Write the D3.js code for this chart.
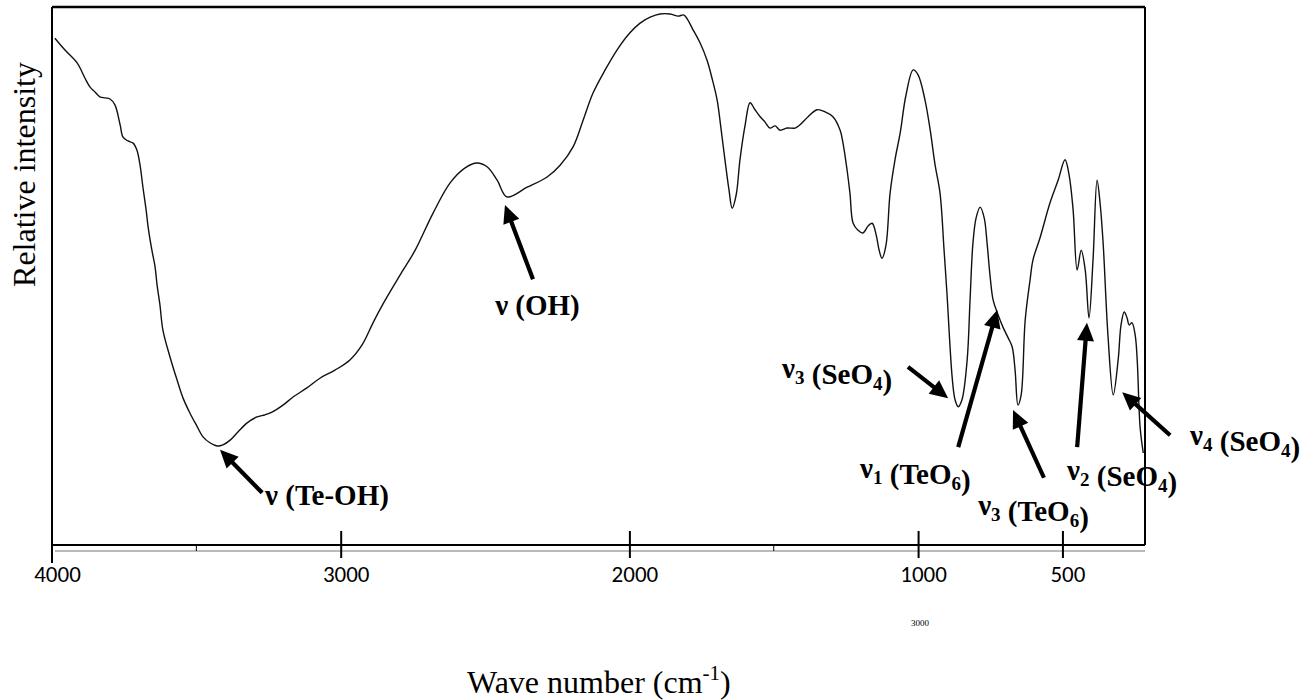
<!DOCTYPE html>
<html>
<head>
<meta charset="utf-8">
<script src="https://cdn.jsdelivr.net/npm/d3@7"></script>
<style>
  html, body { margin: 0; padding: 0; background: #fff; }
  svg { display: block; }
</style>
</head>
<body>
<svg id="chart" width="1306" height="700"></svg>
<script>
// ---------- DATA ----------
const wavenumbers = [3990,3955,3913,3886,3868,3851,3834,3816,3799,3782,3764,3754,3737,3719,3706,3695,3685,3674,3667,3654,3643,3636,3626,3616,3591,3567,3546,3522,3498,3477,3453,3428,3408,3383,3356,3324,3290,3262,3238,3200,3165,3117,3072,3020,2968,2926,2888,2846,2794,2742,2680,2621,2569,2528,2493,2458,2424,2354,2285,2240,2195,2160,2126,2084,2043,1998,1963,1928,1894,1859,1831,1811,1779,1755,1731,1714,1696,1682,1669,1655,1644,1630,1617,1599,1582,1565,1547,1530,1513,1495,1478,1454,1426,1409,1381,1350,1322,1295,1270,1260,1246,1236,1225,1208,1191,1173,1159,1145,1135,1125,1111,1097,1080,1062,1042,1017,1000,976,958,941,924,910,900,882,872,861,848,830,820,810,799,785,771,761,751,740,723,706,688,674,664,654,643,629,612,602,577,543,515,491,477,463,449,435,421,408,394,380,369,359,342,324,307,297,286,276,269,259,248,241,231,220];
const intensity = [94.2,92.0,89.6,86.8,85.1,84.2,83.3,83.1,82.9,81.8,78.1,75.8,75.1,74.7,73.4,70.6,66.5,62.3,59.1,54.8,51.7,48.3,44.6,40.0,34.9,30.7,27.3,24.5,22.1,20.1,19.0,18.4,18.6,19.5,21.0,22.7,23.8,24.2,24.7,26.0,27.5,29.2,31.0,32.5,34.4,37.2,41.3,45.5,50.2,54.8,61.7,67.3,70.1,71.0,70.3,67.8,64.7,66.5,68.4,70.6,74.0,79.0,84.0,88.3,92.0,95.2,97.0,98.1,98.7,98.7,98.3,98.5,95.7,93.3,90.1,86.8,82.7,77.1,71.6,66.0,62.6,65.1,71.6,78.1,82.2,80.9,79.6,78.6,77.5,77.9,77.1,77.5,77.5,78.1,79.6,80.9,80.5,79.6,77.1,74.7,69.7,65.4,59.8,58.5,58.0,59.3,59.8,57.6,54.8,53.3,55.8,65.4,71.6,76.6,83.6,88.3,87.4,82.7,77.1,70.6,65.4,54.8,46.8,31.2,27.0,25.7,27.0,34.4,45.5,56.1,60.8,62.8,60.8,56.1,50.2,45.5,42.8,40.5,38.5,36.8,32.5,26.0,27.9,41.8,49.3,53.0,57.2,63.6,67.8,71.6,68.8,62.3,51.1,54.8,51.1,42.2,53.0,67.8,63.2,56.1,38.7,27.9,34.4,40.9,43.3,42.2,40.9,41.3,39.0,34.4,21.9,17.1];

const tickValues = [4000, 3000, 2000, 1000, 500];
const tickLabels = ["4000", "3000", "2000", "1000", "500"];
const minorTicks = [3500, 1500];

// annotations: text ("_x" = subscript x), label anchor (wn, I), arrow tail (wn, I), arrow tip (wn, I)
const annoText  = ["ν (Te-OH)", "ν (OH)", "ν_3 (SeO_4)", "ν_1 (TeO_6)", "ν_3 (TeO_6)", "ν_2 (SeO_4)", "ν_4 (SeO_4)"];
const annoLabelWn = [3262, 2465, 1471, 1201, 792, 484, 58];
const annoLabelI  = [7.4, 42.8, 31.0, 12.5, 5.6, 12.1, 18.6];
const annoTailWn  = [3272, 2334, 1035, 861, 564, 449, 127];
const annoTailI   = [9.7, 49.4, 33.1, 18.2, 12.5, 18.2, 20.4];
const annoTipWn   = [3418, 2431, 896, 726, 671, 415, 293];
const annoTipI    = [17.7, 63.2, 27.3, 43.7, 25.1, 41.3, 28.4];

// ---------- CHART ----------
const svg = d3.select("#chart");
const x = d3.scaleLinear().domain([4000, 214]).range([52, 1145]);
const y = d3.scaleLinear().domain([0, 100]).range([545, 7]);

const data = wavenumbers.map((w, i) => ({ w, v: intensity[i] }));

// frame
const fr = svg.append("g").attr("stroke", "#000").attr("fill", "none");
fr.append("line").attr("x1", x(4000)).attr("x2", x(214)).attr("y1", y(100)).attr("y2", y(100)).attr("stroke-width", 2.5);
fr.append("line").attr("x1", x(4000)).attr("x2", x(4000)).attr("y1", y(100)).attr("y2", y(0) + 18).attr("stroke-width", 2);
fr.append("line").attr("x1", x(214)).attr("x2", x(214)).attr("y1", y(100)).attr("y2", y(0)).attr("stroke-width", 2);
fr.append("line").attr("x1", x(4000)).attr("x2", x(214)).attr("y1", y(0)).attr("y2", y(0)).attr("stroke-width", 2.2);
// faint scanned double line under axis
svg.append("line").attr("x1", x(4000) + 3).attr("x2", x(214)).attr("y1", y(0) + 6).attr("y2", y(0) + 6)
  .attr("stroke", "#777").attr("stroke-width", 1.2);

// x axis ticks & labels
const axis = d3.axisBottom(x).tickValues(tickValues).tickSize(13).tickFormat((d, i) => tickLabels[i]);
const ax = svg.append("g").attr("transform", `translate(0,${y(0)})`).call(axis);
ax.select(".domain").remove();
ax.selectAll(".tick line").attr("y1", -14).attr("stroke", "#000").attr("stroke-width", 2)
  .filter(d => d === 4000).remove();
ax.selectAll(".tick text").attr("y", 37).attr("dy", 0).attr("dx", 5)
  .attr("font-family", "Carlito, 'Open Sans', sans-serif").attr("font-size", 23).attr("fill", "#000");
svg.append("g").selectAll("line").data(minorTicks).join("line")
  .attr("x1", d => x(d)).attr("x2", d => x(d)).attr("y1", y(0)).attr("y2", y(0) + 6)
  .attr("stroke", "#000").attr("stroke-width", 1);

// spectrum
const line = d3.line().x(d => x(d.w)).y(d => y(d.v)).curve(d3.curveCatmullRom.alpha(0.5));
svg.append("path").datum(data).attr("d", line)
  .attr("fill", "none").attr("stroke", "#111").attr("stroke-width", 1.4).attr("stroke-linejoin", "round");

// arrows
function arrow(x1, y1, x2, y2) {
  const dx = x2 - x1, dy = y2 - y1, L = Math.hypot(dx, dy);
  const ux = dx / L, uy = dy / L, px = -uy, py = ux;
  const hl = 18, hw = 8.5;
  const bx = x2 - ux * hl, by = y2 - uy * hl;
  svg.append("line").attr("x1", x1).attr("y1", y1).attr("x2", bx + ux * 2).attr("y2", by + uy * 2)
    .attr("stroke", "#000").attr("stroke-width", 4.2);
  svg.append("path").attr("d", `M${x2},${y2}L${bx + px * hw},${by + py * hw}L${bx - px * hw},${by - py * hw}Z`)
    .attr("fill", "#000");
}
annoText.forEach((t, i) => {
  arrow(x(annoTailWn[i]), y(annoTailI[i]), x(annoTipWn[i]), y(annoTipI[i]));
  const txt = svg.append("text").attr("x", x(annoLabelWn[i])).attr("y", y(annoLabelI[i]))
    .attr("font-family", "'Liberation Serif', 'Times New Roman', serif").attr("font-weight", "bold")
    .attr("font-size", 29).attr("fill", "#000");
  const parts = t.split(/(_\d)/).filter(s => s.length);
  parts.forEach(p => {
    if (p[0] === "_") {
      txt.append("tspan").attr("font-size", 19).attr("dy", 6).text(p.slice(1));
      txt.append("tspan").attr("dy", -6).text("");
    } else {
      txt.append("tspan").text(p);
    }
  });
});

// axis titles
svg.append("text").attr("transform", "translate(35,174.5) rotate(-90)").attr("text-anchor", "middle")
  .attr("font-family", "'Liberation Serif', 'Times New Roman', serif").attr("font-size", 32).attr("fill", "#000")
  .text("Relative intensity");
const xt = svg.append("text").attr("x", 467).attr("y", 693)
  .attr("font-family", "'Liberation Serif', 'Times New Roman', serif").attr("font-size", 32).attr("fill", "#000");
xt.append("tspan").text("Wave number (cm");
xt.append("tspan").attr("font-size", 21).attr("dy", -13).text("-1");
xt.append("tspan").attr("dy", 13).text(")");

// stray small label
svg.append("text").attr("x", 920).attr("y", 626).attr("text-anchor", "middle")
  .attr("font-family", "'Liberation Serif', serif").attr("font-size", 9).attr("fill", "#000").text("3000");
</script>
</body>
</html>
